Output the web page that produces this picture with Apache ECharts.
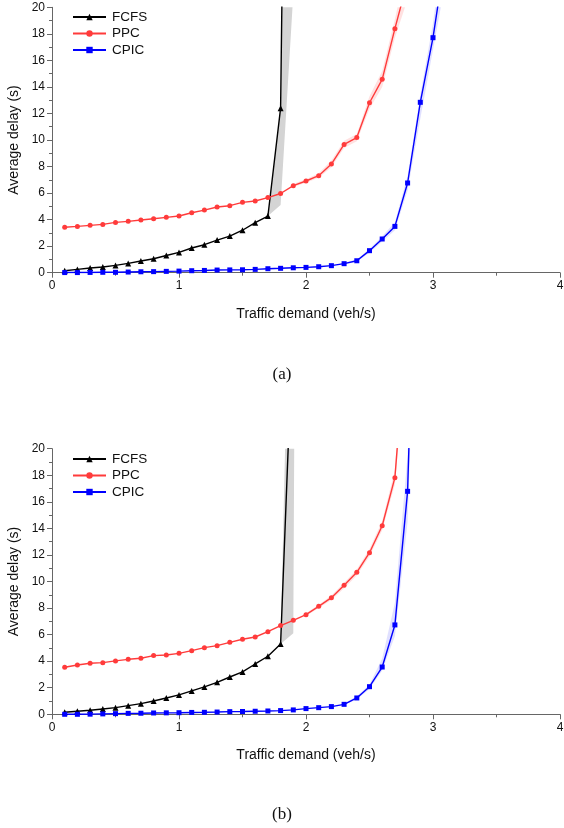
<!DOCTYPE html>
<html>
<head>
<meta charset="utf-8">
<script src="https://cdn.jsdelivr.net/npm/echarts@6/dist/echarts.min.js"></script>
<style>html,body{margin:0;padding:0;background:#fff}#c{width:564px;height:828px}</style>
</head>
<body>
<div id="c"></div>
<script>
// x values (traffic demand, veh/s)
const XS = [0.1,0.2,0.3,0.4,0.5,0.6,0.7,0.8,0.9,1.0,1.1,1.2,1.3,1.4,1.5,1.6,1.7,1.8,1.9,2.0,2.1,2.2,2.3,2.4,2.5,2.6,2.7,2.8,2.9,3.0,3.1];
const xTicks = ['0','1','2','3','4'];
const seriesNames = ['FCFS','PPC','CPIC'];

// Panel (a) mean delays
const FCFS_A = [0.15,0.25,0.35,0.43,0.55,0.70,0.88,1.05,1.30,1.53,1.86,2.11,2.46,2.76,3.20,3.77,4.27,12.4,90];
const PPC_A  = [3.42,3.49,3.57,3.64,3.79,3.87,3.97,4.07,4.17,4.27,4.52,4.72,4.95,5.05,5.30,5.40,5.66,5.97,6.56,6.91,7.31,8.19,9.67,10.18,12.81,14.57,18.39,22.0];
const CPIC_A = [0.01,0.01,0.02,0.03,0.03,0.05,0.07,0.08,0.10,0.12,0.15,0.17,0.20,0.21,0.22,0.25,0.30,0.33,0.37,0.40,0.45,0.53,0.68,0.90,1.66,2.54,3.49,6.76,12.84,17.71,24];

// Panel (b) mean delays
const FCFS_B = [0.15,0.23,0.30,0.40,0.50,0.65,0.80,1.00,1.23,1.46,1.76,2.06,2.41,2.81,3.19,3.79,4.37,5.29,30];
const PPC_B  = [3.54,3.71,3.84,3.89,4.02,4.14,4.22,4.42,4.47,4.59,4.79,5.02,5.17,5.42,5.65,5.82,6.22,6.68,7.08,7.50,8.13,8.78,9.71,10.69,12.17,14.20,17.82,30];
const CPIC_B = [0.00,0.00,0.01,0.03,0.05,0.07,0.08,0.10,0.11,0.12,0.14,0.15,0.17,0.20,0.21,0.23,0.25,0.28,0.33,0.43,0.50,0.58,0.75,1.23,2.08,3.56,6.73,16.79,49];

// Shaded ranges (x, lower, upper)
const bFCFS_A_x = [1.7,1.8,1.9];
const bFCFS_A_lo = [4.27,5.1,21];
const bFCFS_A_hi = [4.27,12.4,90];
const bPPC_A_x = [1.9,2.0,2.1,2.2,2.3,2.4,2.5,2.6,2.7,2.8];
const bPPC_A_lo = [6.45,6.78,7.15,7.95,9.4,9.9,12.35,14.0,17.7,20.6];
const bPPC_A_hi = [6.7,7.05,7.5,8.45,9.95,10.45,13.3,15.2,19.1,23.5];
const bCPIC_A_x = [2.3,2.4,2.5,2.6,2.7,2.8,2.9,3.0,3.1];
const bCPIC_A_lo = [0.62,0.82,1.5,2.35,3.2,6.2,11.6,16.8,22];
const bCPIC_A_hi = [0.75,1.0,1.8,2.75,3.8,7.3,13.4,18.8,26];

const bFCFS_B_x = [1.7,1.8,1.9,2.0];
const bFCFS_B_lo = [4.37,5.29,6.1,200];
const bFCFS_B_hi = [4.37,5.35,47,200];
const bPPC_B_x = [2.0,2.1,2.2,2.3,2.4,2.5,2.6,2.7,2.8];
const bPPC_B_lo = [7.4,8.0,8.6,9.5,10.45,11.9,13.85,17.3,28];
const bPPC_B_hi = [7.6,8.25,8.95,9.9,10.9,12.45,14.55,18.4,32];
const bCPIC_B_x = [2.3,2.4,2.5,2.6,2.7,2.8,2.9];
const bCPIC_B_lo = [0.7,1.12,1.9,3.3,5.9,14.5,42];
const bCPIC_B_hi = [0.8,1.35,2.25,4.2,8.4,19.5,60];

const COLORS = {FCFS:'#000000', PPC:'#ff3b3b', CPIC:'#0000ff'};
const BANDC = {FCFS:'#d4d4d4', PPC:'rgba(255,70,70,0.16)', CPIC:'rgba(50,50,255,0.15)'};
const SYM = {FCFS:'triangle', PPC:'circle', CPIC:'rect'};
const SYMS = {FCFS:6, PPC:5, CPIC:5};
const FONT = '"Liberation Sans", Arial, sans-serif';

function pts(ys){ return ys.map((y,i)=>[XS[i], y]); }

function mainSeries(name, ys, idx){
  return {
    name: name, type:'line', xAxisIndex: idx, yAxisIndex: idx,
    data: pts(ys), symbol: SYM[name], symbolSize: SYMS[name],
    itemStyle:{color: COLORS[name]}, lineStyle:{color: COLORS[name], width:1.4},
    clip:true, z:5, animation:false
  };
}
function bandSeries(name, xs, lo, hi, idx){
  const data = xs.map((x,i)=>[x, lo[i], hi[i]]);
  return {
    name: 'band_'+name+'_'+idx, type:'custom', xAxisIndex: idx, yAxisIndex: idx,
    data: data, encode:{x:0, y:[1,2]}, clip:true, z:1, silent:true, animation:false,
    renderItem: function(params, api){
      if (params.dataIndex !== 0) return null;
      const upper = data.map(d=>api.coord([d[0], d[2]]));
      const lower = data.map(d=>api.coord([d[0], d[1]])).reverse();
      return {type:'polygon', shape:{points: upper.concat(lower)}, style:{fill: BANDC[name], stroke:null}};
    }
  };
}

const grids = [
  {left:52, top:7.3, width:508, height:265.4, outerBoundsMode:'none', containLabel:false},
  {left:52, top:448.7, width:508, height:265.6, outerBoundsMode:'none', containLabel:false}
];
function xAxis(idx){
  return {
    type:'value', gridIndex: idx, min:0, max:4, interval:1,
    name:'Traffic demand (veh/s)', nameLocation:'middle', nameGap:34,
    nameTextStyle:{fontFamily:FONT, fontSize:14, color:'#111'},
    axisLine:{show:true, onZero:false, lineStyle:{color:'#666', width:1}},
    axisTick:{show:true, length:5, lineStyle:{color:'#666'}},
    minorTick:{show:true, splitNumber:2, length:3, lineStyle:{color:'#666'}},
    axisLabel:{fontFamily:FONT, fontSize:12, color:'#111', margin:7, formatter:(v)=>xTicks[Math.round(v)]},
    splitLine:{show:false}
  };
}
function yAxis(idx){
  return {
    type:'value', gridIndex: idx, min:0, max:20, interval:2,
    name:'Average delay (s)', nameLocation:'middle', nameGap:28,
    nameTextStyle:{fontFamily:FONT, fontSize:14, color:'#111'},
    axisLine:{show:true, lineStyle:{color:'#666', width:1}},
    axisTick:{show:true, length:5, lineStyle:{color:'#666'}},
    minorTick:{show:true, splitNumber:2, length:3, lineStyle:{color:'#666'}},
    axisLabel:{fontFamily:FONT, fontSize:12, color:'#111', margin:7},
    splitLine:{show:false}
  };
}

const series = [
  bandSeries('FCFS', bFCFS_A_x, bFCFS_A_lo, bFCFS_A_hi, 0),
  bandSeries('PPC', bPPC_A_x, bPPC_A_lo, bPPC_A_hi, 0),
  bandSeries('CPIC', bCPIC_A_x, bCPIC_A_lo, bCPIC_A_hi, 0),
  bandSeries('FCFS', bFCFS_B_x, bFCFS_B_lo, bFCFS_B_hi, 1),
  bandSeries('PPC', bPPC_B_x, bPPC_B_lo, bPPC_B_hi, 1),
  bandSeries('CPIC', bCPIC_B_x, bCPIC_B_lo, bCPIC_B_hi, 1),
  mainSeries('FCFS', FCFS_A, 0), mainSeries('PPC', PPC_A, 0), mainSeries('CPIC', CPIC_A, 0),
  mainSeries('FCFS', FCFS_B, 1), mainSeries('PPC', PPC_B, 1), mainSeries('CPIC', CPIC_B, 1)
];

function legend(top){
  return {
    data: seriesNames, orient:'vertical', left:72, top: top,
    itemWidth:33, itemHeight:8, itemGap:2.5, selectedMode:false, padding:0,
    textStyle:{fontFamily:FONT, fontSize:13.5, color:'#111', padding:[0,0,0,1]}
  };
}

const chart = echarts.init(document.getElementById('c'), null, {renderer:'canvas'});
chart.setOption({
  animation:false,
  backgroundColor:'#fff',
  title:[
    {text:'(a)', left:'center', top:361, textStyle:{fontFamily:'"Liberation Serif", "Times New Roman", serif', fontSize:17, fontWeight:'normal', color:'#111'}},
    {text:'(b)', left:'center', top:801, textStyle:{fontFamily:'"Liberation Serif", "Times New Roman", serif', fontSize:17, fontWeight:'normal', color:'#111'}}
  ],
  legend:[legend(10), legend(452)],
  grid: grids,
  xAxis:[xAxis(0), xAxis(1)],
  yAxis:[yAxis(0), yAxis(1)],
  series: series
});
</script>
</body>
</html>
